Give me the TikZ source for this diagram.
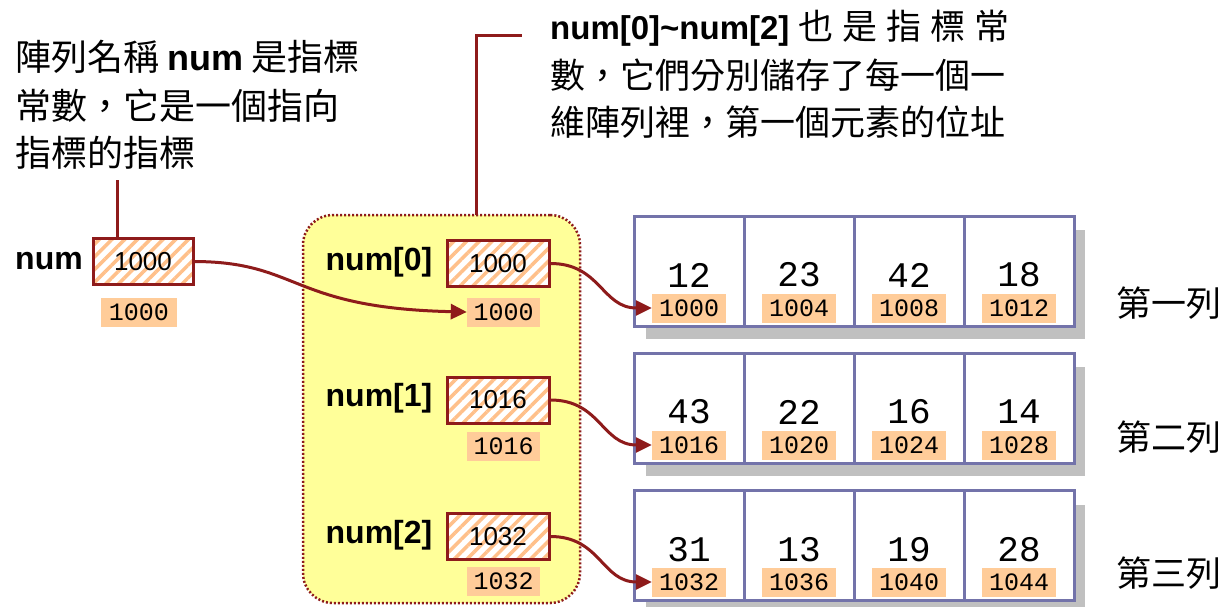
\documentclass[tikz,border=0pt]{standalone}
\usepackage{fontspec}
\usetikzlibrary{arrows.meta,patterns.meta}
\newfontfamily\cjk{Noto Sans CJK TC}
\newfontfamily\arialf{Liberation Sans}
\newfontfamily\courf{Liberation Mono}
\definecolor{dred}{HTML}{8E1B1B}
\definecolor{hatchc}{HTML}{FFC08A}
\definecolor{addrc}{HTML}{FFCC99}
\definecolor{cellc}{HTML}{7373AA}
\definecolor{yel}{HTML}{FFFF99}
\definecolor{shad}{HTML}{C0C0C0}
\begin{document}
\begin{tikzpicture}[x=1pt,y=-1pt,
  ptrbox/.style={draw=dred, line width=3pt, preaction={fill=white},
    pattern={Lines[angle=45,distance=9pt,line width=3.5pt]}, pattern color=hatchc,
    minimum width=100pt, minimum height=46pt, inner sep=0pt,
    font=\arialf\fontsize{26}{26}\selectfont},
  addr/.style={fill=addrc, minimum width=74pt, minimum height=29pt, inner sep=0pt,
    font=\courf\fontsize{25}{25}\selectfont},
  cell/.style={draw=cellc, line width=3pt, fill=white, minimum width=110pt,
    minimum height=110pt, inner sep=0pt},
  val/.style={inner sep=0pt, font=\courf\fontsize{36}{36}\selectfont},
  lbl/.style={inner sep=0pt, font=\arialf\bfseries\fontsize{32}{32}\selectfont},
  cjkt/.style={inner sep=0pt, anchor=west, font=\cjk\fontsize{36}{36}\selectfont},
  cjks/.style={inner sep=0pt, anchor=west, font=\cjk\fontsize{35}{35}\selectfont},
  ptr/.style={draw=dred, line width=3pt, -{Triangle[length=16pt,width=15pt]}},
  lead/.style={draw=dred, line width=3pt},
  ybox/.style={draw=dred, line width=2.5pt, dash pattern=on 2pt off 2pt, fill=yel,
    rounded corners=30pt, minimum width=277pt, minimum height=388pt, inner sep=0pt}
]
\useasboundingbox[fill=white] (0,0) rectangle (1226,606);

% left explanatory text
\node[cjkt] (lt1) at (15,57) {陣列名稱 {\arialf\bfseries num} 是指標};
\node[cjkt] (lt2) at (15,106) {常數，它是一個指向};
\node[cjkt] (lt3) at (15,153) {指標的指標};

% top explanatory text
\node[cjks] (tt1) at (550,28) {\makebox[459pt][s]{{\arialf\bfseries\fontsize{33}{33}\selectfont num[0]\textasciitilde num[2]}\hfill 也\hfill 是\hfill 指\hfill 標\hfill 常}};
\node[cjks] (tt2) at (550,75) {數，它們分別儲存了每一個一};
\node[cjks] (tt3) at (550,122) {維陣列裡，第一個元素的位址};

% yellow box
\node[ybox] (yb) at (441.5,409) {};
\coordinate (tc) at (522,35);
\draw[lead] (476,215) |- (tc);

% num pointer
\node[lbl] (numl) at (49,261) {num};
\node[ptrbox] (nb) at (143,261.5) {1000};
\node[addr, minimum width=76pt] (na) at (139,312) {1000};
\coordinate (lc) at (117,180);
\draw[lead] (lc) -- (nb.north -| lc);

% num[i]
\node[lbl] (l0) at (379,262) {num[0]};
\node[ptrbox, minimum width=102pt] (p0) at (498,263.5) {1000};
\node[addr, minimum width=73pt] (pa0) at (503.5,312) {1000};
\node[lbl] (l1) at (379,398) {num[1]};
\node[ptrbox, minimum width=102pt] (p1) at (498,400) {1016};
\node[addr, minimum width=73pt] (pa1) at (503.5,446.5) {1016};
\node[lbl] (l2) at (379,535) {num[2]};
\node[ptrbox, minimum width=102pt] (p2) at (498,536.5) {1032};
\node[addr, minimum width=73pt] (pa2) at (503.5,581.5) {1032};

% shadows
\fill[shad] (646,230) rectangle (1085,339);
\fill[shad] (646,367) rectangle (1085,476);
\fill[shad] (646,505) rectangle (1085,613);

% rows
\foreach \c/\v/\a in {1/12/1000,2/23/1004,3/42/1008,4/18/1012}{
  \node[cell] (r1c\c) at ({579+110*\c},271) {};
  \node[val] (v1c\c) at ({579+110*\c},275) {\v};
  \node[addr] (a1c\c) at ({579+110*\c},308) {\a};
}
\foreach \c/\v/\a in {1/43/1016,2/22/1020,3/16/1024,4/14/1028}{
  \node[cell] (r2c\c) at ({579+110*\c},408) {};
  \node[val] (v2c\c) at ({579+110*\c},412) {\v};
  \node[addr] (a2c\c) at ({579+110*\c},445) {\a};
}
\foreach \c/\v/\a in {1/31/1032,2/13/1036,3/19/1040,4/28/1044}{
  \node[cell] (r3c\c) at ({579+110*\c},545.5) {};
  \node[val] (v3c\c) at ({579+110*\c},550) {\v};
  \node[addr] (a3c\c) at ({579+110*\c},582) {\a};
}

% row labels
\node[cjks] (rl1) at (1116,303) {第一列};
\node[cjks] (rl2) at (1116,437) {第二列};
\node[cjks] (rl3) at (1116,573) {第三列};

% arrows
\draw[ptr] (nb.east) .. controls (300,262) and (290,308) .. (pa0.west);
\draw[ptr] (p0.east) .. controls +(50,0) and +(-50,0) .. (a1c1.west);
\draw[ptr] (p1.east) .. controls +(50,0) and +(-50,0) .. (a2c1.west);
\draw[ptr] (p2.east) .. controls +(50,0) and +(-50,0) .. (a3c1.west);
\end{tikzpicture}
\end{document}
